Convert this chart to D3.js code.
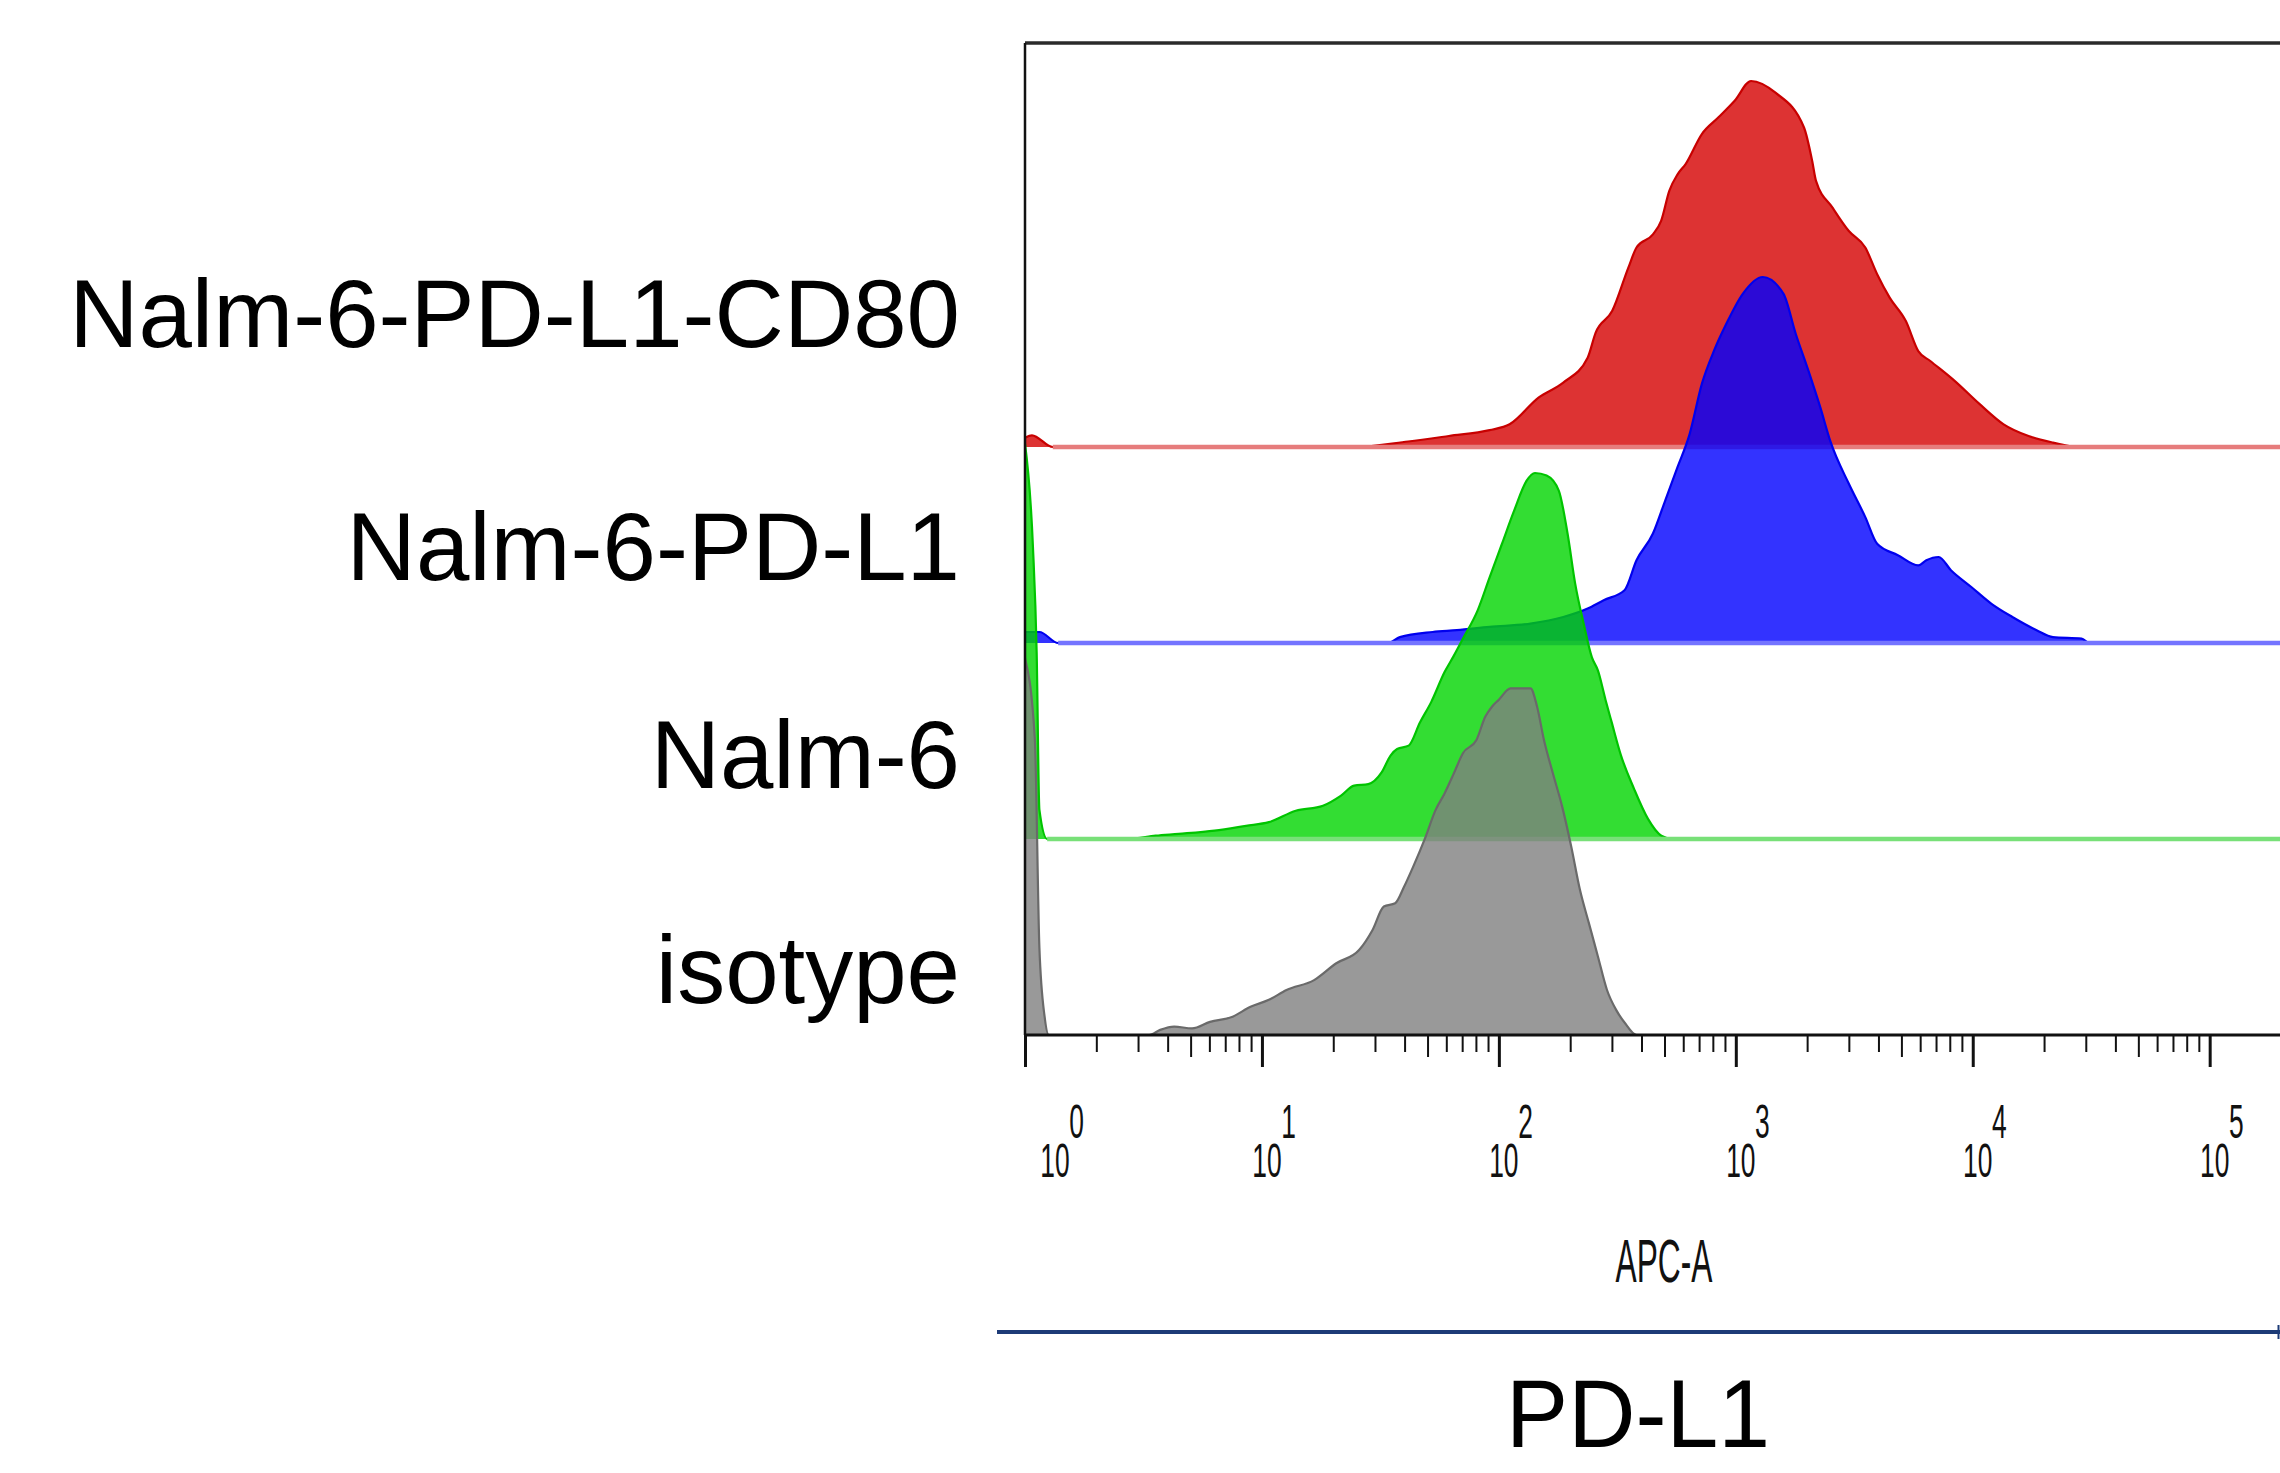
<!DOCTYPE html>
<html>
<head>
<meta charset="utf-8">
<script src="https://cdn.jsdelivr.net/npm/d3@7"></script>
<style>
  body { margin: 0; background: #fff; }
  svg { display: block; }
  text { font-family: "Liberation Sans", Arial, sans-serif; }
</style>
</head>
<body>
<div id="chart"></div>
<script>
// samples, top to bottom
const samples = ["Nalm-6-PD-L1-CD80", "Nalm-6-PD-L1", "Nalm-6", "isotype"];

// APC-A value, % of mode
const cd80 = [[1, 2.5], [1.07, 3.2], [1.31, 0], [24.7, 0], [41.4, 1.5], [61.5, 3.0], [91.4, 4.6], [111, 6.2],
  [147, 13.5], [187, 17.6], [237, 24.4], [256, 31.2], [301, 37.2], [352, 49], [381, 54.5], [447, 58.1],
  [484, 61.8], [524, 70], [568, 74.5], [614, 77.3], [719, 85.5], [843, 90], [989, 94.6], [1160, 100],
  [1470, 96.8], [1940, 87.3], [2100, 78.2], [2180, 72.7], [2560, 65.4], [3000, 59], [3520, 54.5],
  [3950, 47.2], [4460, 40.8], [5220, 34.4], [5890, 26.2], [6620, 23.5], [8410, 18], [10700, 11.7],
  [13500, 6.2], [17200, 3], [21800, 1.2], [27600, 0], [200000, 0]];

const pdl1 = [[1, 3], [1.15, 3], [1.38, 0], [34, 0], [38.2, 1.6], [52.5, 3.0], [66.5, 3.5], [91.4, 4.4],
  [136, 5.3], [187, 7.1], [237, 9.4], [277, 11.7], [339, 14.4], [381, 22.6], [447, 29.9], [504, 39],
  [568, 48.1], [638, 57], [719, 70.8], [811, 80], [912, 87.2], [1070, 95.4], [1300, 100], [1590, 95.4],
  [1790, 84.5], [2020, 74.6], [2270, 64.5], [2510, 55], [3000, 43.5], [3520, 34.4], [3950, 27.1],
  [4830, 24], [5890, 21.2], [6370, 22.6], [7180, 23.5], [8090, 19.9], [9860, 15.3], [12000, 10.7],
  [14700, 7.1], [18600, 3.5], [21800, 1.6], [28800, 1.2], [31100, 0], [200000, 0]];

const nalm6 = [[1, 108], [1.08, 80], [1.12, 51], [1.15, 8], [1.24, 0], [2.74, 0], [3.56, 0.9], [4.45, 1.4],
  [6.31, 2.3], [8.57, 3.6], [10.7, 4.6], [13.9, 7.7], [18.1, 9.1], [21.5, 11.8], [24.5, 14.6], [28.1, 15],
  [32, 18.2], [34.9, 22.8], [37.2, 24.6], [41.6, 25.5], [46.5, 31.9], [51.8, 37.4], [59, 45.6],
  [64.6, 50.1], [70.5, 54.7], [81.3, 62.4], [91.4, 71.5], [103, 80.6], [116, 89.7], [131, 97.9],
  [142, 100], [159, 99.3], [179, 95.2], [195, 83.4], [210, 69.7], [228, 58.8], [247, 49.6], [262, 46],
  [282, 38], [299, 32], [327, 23], [372, 13.7], [426, 5.5], [485, 0.9], [541, 0], [200000, 0]];

const isotype = [[1, 103], [1.1, 81], [1.15, 24], [1.21, 5], [1.26, 0], [3.34, 0], [3.72, 1.4], [4.26, 2.3],
  [5.07, 1.8], [6.04, 3.6], [7.52, 5], [8.95, 7.7], [10.7, 9.6], [12.7, 12.3], [16.6, 15], [20.6, 19.6],
  [25.7, 23.2], [29.3, 28.7], [32.7, 35.1], [36.5, 36], [39.8, 40.5], [43.5, 46], [48.5, 53.3],
  [54.1, 61.5], [59, 66], [64.6, 71.5], [70.5, 77], [80.4, 80.6], [87.7, 87], [93.5, 89.7], [100, 91.6],
  [112, 94.7], [136, 94.7], [145, 89.7], [155, 80.6], [169, 71.5], [185, 62.4], [202, 51.5], [220, 39.6],
  [240, 30.5], [262, 21.4], [286, 12.3], [313, 6.8], [341, 3.2], [381, 0], [200000, 0]];

const decades = [1, 10, 100, 1000, 10000, 100000];
const exponents = ["0", "1", "2", "3", "4", "5"];

const series = [cd80, pdl1, nalm6, isotype];
const fills = ["#d50000", "#0000ff", "#00d400", "#7f7f7f"];
const strokes = ["#c80000", "#0000ee", "#00c400", "#6a6a6a"];
const baseCol = ["#e67c7c", "#7474ff", "#78e078", "#555"];

const width = 2280, height = 1473;
const plot = {left: 1025, top: 43, bottom: 1035, right: 2280};
const peakPx = 366;

const svg = d3.select("#chart").append("svg")
    .attr("width", width)
    .attr("height", height);

const x = d3.scaleLog()
    .domain([1, 200000])
    .range([plot.left, 2281]);

// baseline of each offset histogram
const offset = d3.scalePoint()
    .domain(samples)
    .range([447, plot.bottom]);

svg.append("clipPath").attr("id", "clip")
  .append("rect")
    .attr("x", plot.left).attr("y", plot.top)
    .attr("width", plot.right - plot.left).attr("height", plot.bottom - plot.top);

const layer = svg.append("g").attr("clip-path", "url(#clip)");

series.forEach((data, i) => {
    const base = offset(samples[i]);
    const y = d3.scaleLinear().domain([0, 100]).range([base, base - peakPx]);

    const area = d3.area()
        .curve(d3.curveMonotoneX)
        .x(d => x(d[0]))
        .y0(base)
        .y1(d => y(d[1]));
    const line = d3.line()
        .curve(d3.curveMonotoneX)
        .x(d => x(d[0]))
        .y(d => y(d[1]));

    layer.append("path")
        .attr("d", area(data))
        .attr("fill", fills[i])
        .attr("fill-opacity", 0.8);

    layer.append("path")
        .attr("d", line(data))
        .attr("fill", "none")
        .attr("stroke", strokes[i])
        .attr("stroke-width", 2.2)
        .attr("stroke-linejoin", "round");

    if (i < 3) {
        const zeroFrom = data.findIndex((d, j) => j > 0 && d[1] === 0);
        layer.append("line")
            .attr("x1", x(data[zeroFrom][0])).attr("x2", plot.right)
            .attr("y1", base).attr("y2", base)
            .attr("stroke", baseCol[i])
            .attr("stroke-width", 4.5);
    }
});

// frame
svg.append("line")
    .attr("x1", plot.left).attr("x2", plot.right)
    .attr("y1", plot.top).attr("y2", plot.top)
    .attr("stroke", "#2b2b2b").attr("stroke-width", 3.5);
svg.append("line")
    .attr("x1", plot.left).attr("x2", plot.left)
    .attr("y1", plot.top).attr("y2", plot.bottom)
    .attr("stroke", "#111").attr("stroke-width", 2.5);
svg.append("line")
    .attr("x1", plot.left - 1).attr("x2", plot.right)
    .attr("y1", plot.bottom).attr("y2", plot.bottom)
    .attr("stroke", "#111").attr("stroke-width", 3);

// log axis with minor ticks
const isMajor = v => Math.abs(Math.log10(v) - Math.round(Math.log10(v))) < 1e-9;
const isFive = v => Math.abs(v / Math.pow(10, Math.floor(Math.log10(v) + 1e-9)) - 5) < 1e-6;

const xAxis = svg.append("g")
    .attr("class", "axis axis--x")
    .attr("transform", "translate(0," + plot.bottom + ")")
    .call(d3.axisBottom(x).tickValues(x.ticks()).tickFormat("").tickSizeOuter(0));

xAxis.select(".domain").remove();
xAxis.selectAll(".tick line")
    .attr("y2", d => isMajor(d) ? 32 : (isFive(d) ? 22 : 17))
    .attr("stroke", "#111")
    .attr("stroke-width", d => isMajor(d) ? 3 : 2);

decades.forEach((v, i) => {
    const dx = i === 0 ? 30 : 5;
    const g = svg.append("g")
        .attr("transform", `translate(${x(v) + dx},1177) scale(0.55,1)`);
    g.append("text")
        .attr("text-anchor", "middle")
        .style("font-size", "48px")
        .attr("fill", "#111")
        .text("10");
    g.append("text")
        .attr("x", 26)
        .attr("y", -39)
        .style("font-size", "48px")
        .attr("fill", "#111")
        .text(exponents[i]);
});

svg.append("g")
    .attr("transform", "translate(1664,1282) scale(0.52,1)")
  .append("text")
    .attr("text-anchor", "middle")
    .style("font-size", "61px")
    .attr("fill", "#111")
    .text("APC-A");

// sample labels
const labelY = [347, 580, 788, 1003];
svg.selectAll(".sample-label")
    .data(samples)
    .enter()
    .append("text")
    .attr("class", "sample-label")
    .attr("x", 960)
    .attr("y", (d, i) => labelY[i])
    .attr("text-anchor", "end")
    .style("font-size", "96px")
    .attr("fill", "#000")
    .text(d => d);

// bottom rule and marker title
svg.append("line")
    .attr("x1", 997).attr("x2", 2280)
    .attr("y1", 1332).attr("y2", 1332)
    .attr("stroke", "#1d3b77").attr("stroke-width", 4);
svg.append("line")
    .attr("x1", 2278.5).attr("x2", 2278.5)
    .attr("y1", 1325).attr("y2", 1339)
    .attr("stroke", "#1d3b77").attr("stroke-width", 2);

svg.append("g")
    .attr("transform", "translate(1638,1447) scale(0.96,1)")
  .append("text")
    .attr("text-anchor", "middle")
    .style("font-size", "97px")
    .attr("fill", "#000")
    .text("PD-L1");
</script>
</body>
</html>
